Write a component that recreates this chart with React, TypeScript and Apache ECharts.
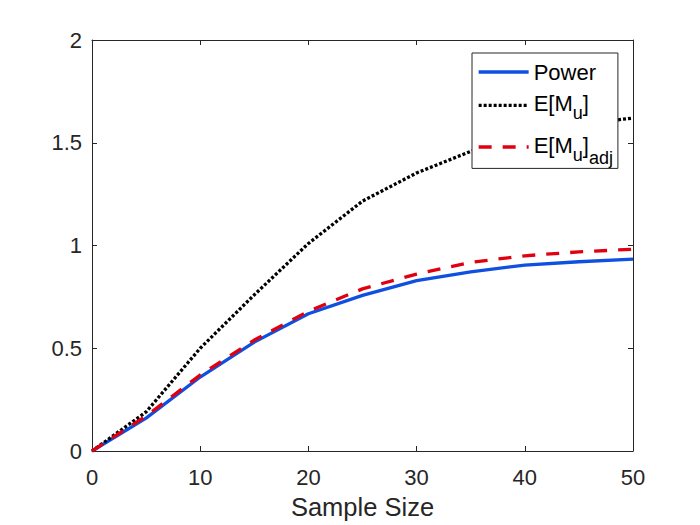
import React, { useEffect, useRef } from "react";
import * as echarts from "echarts";

const sampleSizes = [0, 5, 10, 15, 20, 25, 30, 35, 40, 45, 50];
const powerValues = [0, 0.16, 0.36, 0.53, 0.668, 0.757, 0.829, 0.872, 0.905, 0.921, 0.934];
const expectedMu = [0, 0.19, 0.5, 0.76, 1.01, 1.216, 1.353, 1.458, 1.54, 1.59, 1.62];
const expectedMuAdj = [0, 0.17, 0.37, 0.54, 0.68, 0.789, 0.861, 0.918, 0.95, 0.969, 0.982];
const seriesNames = ["Power", "E[M_u]", "E[M_u]_adj"];

const FONT = "Liberation Sans";
const INK = "#262626";

export default function App() {
  const ref = useRef<HTMLDivElement>(null);
  useEffect(() => {
    if (!ref.current) return;
    const chart = echarts.init(ref.current, null, { renderer: "svg" });
    const pts = (vals: number[]) => sampleSizes.map((x, i) => [x, vals[i]]);
    const axisCommon = {
      axisLine: { show: true, onZero: false, lineStyle: { color: INK, width: 1 } },
      axisTick: { show: true, inside: true, length: 5, lineStyle: { color: INK, width: 1 } },
      splitLine: { show: false },
    };
    const base = (pt: number, lh: number) => ({
      fontSize: 22,
      height: 24,
      lineHeight: lh,
      verticalAlign: "top",
      padding: [pt, 0, 0, 0],
      fontFamily: FONT,
      color: "#000",
    });
    const sub = (pt: number, lh: number) => ({
      fontSize: 18,
      height: 19,
      lineHeight: lh,
      verticalAlign: "top",
      padding: [pt, 0, 0, 0],
      fontFamily: FONT,
      color: "#000",
    });
    chart.setOption({
      animation: false,
      backgroundColor: "#ffffff",
      grid: { left: 92, top: 40, right: 67, bottom: 72, containLabel: false },
      xAxis: [
        {
          type: "value",
          min: 0,
          max: 50,
          interval: 10,
          position: "bottom",
          ...axisCommon,
          axisLabel: { color: INK, fontSize: 22, fontFamily: FONT, margin: 15 },
          name: "Sample Size",
          nameLocation: "middle",
          nameGap: 43,
          nameTextStyle: { color: INK, fontSize: 25.5, fontFamily: FONT },
        },
        {
          type: "value",
          min: 0,
          max: 50,
          interval: 10,
          position: "top",
          ...axisCommon,
          axisLabel: { show: false },
        },
      ],
      yAxis: [
        {
          type: "value",
          min: 0,
          max: 2,
          interval: 0.5,
          position: "left",
          ...axisCommon,
          axisLabel: { color: INK, fontSize: 22, fontFamily: FONT, margin: 10 },
        },
        {
          type: "value",
          min: 0,
          max: 2,
          interval: 0.5,
          position: "right",
          ...axisCommon,
          axisLabel: { show: false },
        },
      ],
      legend: {
        orient: "vertical",
        left: 472,
        top: 53,
        padding: [7, 5, 1, 5],
        itemGap: 3.8,
        itemWidth: 50,
        itemHeight: 14,
        itemStyle: { opacity: 0 },
        lineStyle: { width: 3.3 },
        borderColor: INK,
        borderWidth: 1,
        backgroundColor: "#ffffff",
        data: seriesNames,
        formatter: (name: string) => {
          if (name === "Power") return "{p|Power}";
          if (name === "E[M_u]") return "{b|E[M}{s|u}{b|]}";
          return "{c|E[M}{t|u}{c|]}{d|adj}";
        },
        textStyle: {
          color: "#000000",
          fontFamily: FONT,
          fontSize: 22,
          rich: {
            p: { fontSize: 22, height: 24, lineHeight: 24, fontFamily: FONT, color: "#000" },
            b: base(4, 35),
            s: sub(16, 35),
            c: base(6.8, 40.8),
            t: sub(18.8, 40.8),
            d: sub(21.8, 40.8),
          },
        },
      },
      series: [
        {
          name: seriesNames[0],
          type: "line",
          data: pts(powerValues),
          symbol: "none",
          lineStyle: { color: "#1050e0", width: 3.3, type: "solid" },
          itemStyle: { color: "#1050e0" },
        },
        {
          name: seriesNames[1],
          type: "line",
          data: pts(expectedMu),
          symbol: "none",
          lineStyle: { color: "#000000", width: 3.3, type: [3, 2] },
          itemStyle: { color: "#000000" },
        },
        {
          name: seriesNames[2],
          type: "line",
          data: pts(expectedMuAdj),
          symbol: "none",
          lineStyle: { color: "#e00010", width: 3.3, type: [13, 11] },
          itemStyle: { color: "#e00010" },
        },
      ],
    });
    return () => chart.dispose();
  }, []);
  return (
    <div
      ref={ref}
      style={{ position: "fixed", left: 0, top: 0, width: 700, height: 525, background: "#fff" }}
    />
  );
}
